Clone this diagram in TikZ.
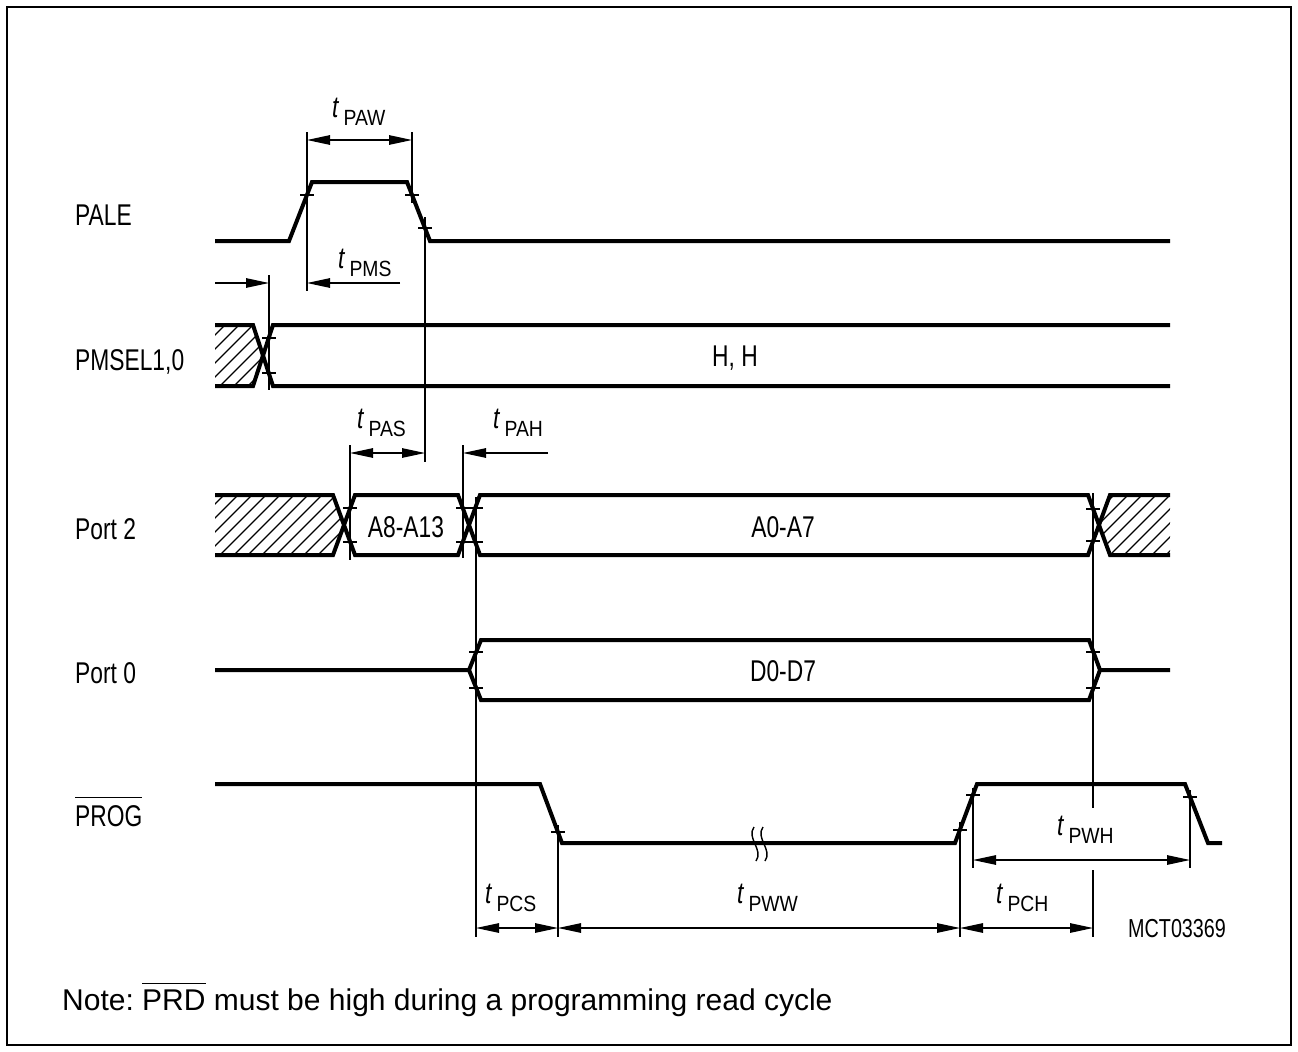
\documentclass[tikz,border=0pt]{standalone}
\usepackage{fontspec}
\setmainfont{Liberation Sans}
\newfontfamily\cond{Liberation Sans}[FakeStretch=0.76]
\newfontfamily\subf{Liberation Sans}[FakeStretch=0.88]
\usetikzlibrary{arrows.meta}
\newsavebox\ovbox
\newcommand\ovl[2]{\sbox\ovbox{#2}\rlap{\rule[\dimexpr\ht\ovbox+#1\relax]{\wd\ovbox}{1.5bp}}\usebox\ovbox}
\newcommand\tlab[1]{{\fontsize{30bp}{34bp}\selectfont\cond\itshape t}\hspace{5bp}\raisebox{-8bp}{\fontsize{22bp}{26bp}\selectfont\subf #1}}
\begin{document}
\frenchspacing
\begin{tikzpicture}[x=1bp,y=-1bp,
  sig/.style={line width=4bp, line join=miter},
  thinl/.style={line width=1.2bp},
  hatchl/.style={line width=1.1bp},
  dim/.style={thinl, {Triangle[length=23bp,width=9.5bp]}-{Triangle[length=23bp,width=9.5bp]}},
  dimr/.style={thinl, -{Triangle[length=23bp,width=9.5bp]}},
  lbl/.style={font=\fontsize{30bp}{36bp}\selectfont\cond, inner sep=0pt, anchor=base west},
  bus/.style={font=\fontsize{30bp}{36bp}\selectfont\cond, inner sep=0pt, anchor=base},
  tl/.style={inner sep=0pt, anchor=base west}
]
\useasboundingbox (0,0) rectangle (1298,1052);
\draw[line width=2.2bp] (7,7) rectangle (1291,1045);

% signal labels
\node[lbl] (lpale) at (75,225) {PALE};
\node[lbl] (lpmsel) at (75,370) {PMSEL1,0};
\node[lbl] (lport2) at (75,539) {Port 2};
\node[lbl] (lport0) at (75,683) {Port 0};
\node[lbl] (lprog) at (75,826) {\ovl{7bp}{PROG}};

% hatching
\begin{scope}
  \clip (215,325) -- (253,325) -- (263,355.5) -- (253,386) -- (215,386) -- cycle;
  \foreach \xx in {150,164,...,270} \draw[hatchl] (\xx,386) -- ++(61,-61);
\end{scope}
\begin{scope}
  \clip (215,495) -- (333,495) -- (344,525) -- (333,555) -- (215,555) -- cycle;
  \foreach \xx in {150,164,...,350} \draw[hatchl] (\xx,555) -- ++(60,-60);
\end{scope}
\begin{scope}
  \clip (1170,495) -- (1110,495) -- (1099,525) -- (1110,555) -- (1170,555) -- cycle;
  \foreach \xx in {1040,1054,...,1180} \draw[hatchl] (\xx,555) -- ++(60,-60);
\end{scope}

% PALE
\draw[sig] (215,241) -- (289,241) -- (312,182) -- (407,182) -- (430,241) -- (1170,241);
% PMSEL1,0
\draw[sig] (215,325) -- (253,325) -- (273,386) -- (1170,386);
\draw[sig] (215,386) -- (253,386) -- (273,325) -- (1170,325);
% Port 2
\draw[sig] (215,495) -- (333,495) -- (355,555) -- (458,555) -- (480,495) -- (1088,495) -- (1110,555) -- (1170,555);
\draw[sig] (215,555) -- (333,555) -- (355,495) -- (458,495) -- (480,555) -- (1088,555) -- (1110,495) -- (1170,495);
% Port 0
\draw[sig] (215,670) -- (469,670) -- (481,640) -- (1089,640) -- (1100,670) -- (1170,670);
\draw[sig] (469,670) -- (481,700) -- (1089,700) -- (1100,670);
% PROG
\draw[sig] (215,784) -- (540,784) -- (562,843) -- (955,843) -- (977,784) -- (1185,784) -- (1208,843) -- (1222,843);
% break mark
\draw[line width=1.4bp] (754,827) .. controls (746,838) and (764,850) .. (756,861);
\draw[line width=1.4bp] (763,827) .. controls (755,838) and (773,850) .. (765,861);

% bus texts
\node[bus] (thh) at (735,366) {H, H};
\node[bus] (ta8) at (406,537) {A8-A13};
\node[bus] (ta0) at (783,537) {A0-A7};
\node[bus] (td0) at (783,681) {D0-D7};

% reference lines
\draw[thinl] (307,132) -- (307,291);
\draw[thinl] (412,132) -- (412,203);
\draw[thinl] (425,217) -- (425,462);
\draw[thinl] (269,275) -- (269,390);
\draw[thinl] (350,445) -- (350,560);
\draw[thinl] (463,445) -- (463,558);
\draw[thinl] (476,497) -- (476,937);
\draw[thinl] (1093,493) -- (1093,808);
\draw[thinl] (1093,870) -- (1093,937);
\draw[thinl] (558,825) -- (558,937);
\draw[thinl] (960,822) -- (960,937);
\draw[thinl] (973,788) -- (973,868);
\draw[thinl] (1190,790) -- (1190,868);

% ticks
\foreach \x/\y in {307/195, 412/195, 425/228, 269/338, 269/373,
  350/508, 350/542, 463/508, 463/542, 476/508, 476/542, 1093/509, 1093/541,
  476/652, 476/688, 1093/652, 1093/688,
  558/832, 960/830, 973/795, 1190/797}
  \draw[thinl] (\x-7,\y) -- (\x+7,\y);

% dimension arrows
\draw[dim] (307,140) -- (412,140);
\draw[dimr] (400,283) -- (307,283);
\draw[dimr] (215,283) -- (269,283);
\draw[dim] (350,453) -- (425,453);
\draw[dimr] (548,453) -- (463,453);
\draw[dim] (476,928) -- (558,928);
\draw[dim] (558,928) -- (960,928);
\draw[dim] (960,928) -- (1093,928);
\draw[dim] (973,860) -- (1190,860);

% timing labels
\node[tl] (tpaw) at (332,117) {\tlab{PAW}};
\node[tl] (tpms) at (338,268) {\tlab{PMS}};
\node[tl] (tpas) at (357,428) {\tlab{PAS}};
\node[tl] (tpah) at (493,428) {\tlab{PAH}};
\node[tl] (tpcs) at (485,903) {\tlab{PCS}};
\node[tl] (tpww) at (737,903) {\tlab{PWW}};
\node[tl] (tpch) at (996,903) {\tlab{PCH}};
\node[tl] (tpwh) at (1057,835) {\tlab{PWH}};

\node[inner sep=0pt, anchor=base west, font=\fontsize{26bp}{30bp}\selectfont\cond] (mct) at (1128,937) {MCT03369};

\node[inner sep=0pt, anchor=base west, font=\fontsize{30bp}{34bp}\selectfont] (note) at (62,1010) {Note: \ovl{5bp}{PRD} must be high during a programming read cycle};
\end{tikzpicture}
\end{document}
